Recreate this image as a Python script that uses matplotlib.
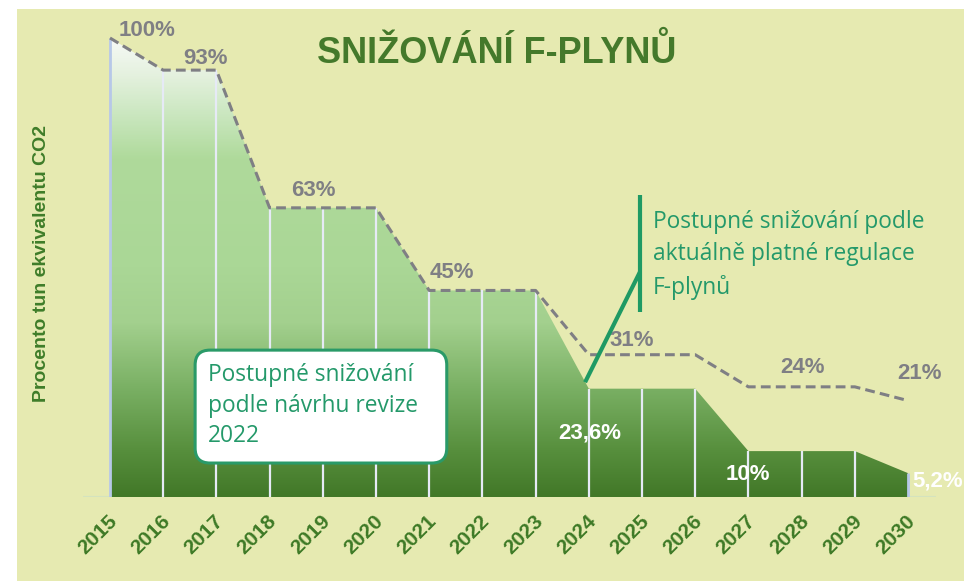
import numpy as np
import matplotlib
matplotlib.use("Agg")
import matplotlib.pyplot as plt
from matplotlib.colors import LinearSegmentedColormap
from matplotlib.patches import Rectangle, FancyBboxPatch
from matplotlib.transforms import ScaledTranslation

# --- data -------------------------------------------------------------
years = list(range(2015, 2031))
# phase-down according to the 2022 revision proposal (% of CO2-eq tonnes)
revize_2022 = [100, 93, 93, 63, 63, 63, 45, 45, 45, 23.6, 23.6, 23.6, 10, 10, 10, 5.2]
# phase-down according to the F-gas regulation currently in force
platna_regulace = [100, 93, 93, 63, 63, 63, 45, 45, 45, 31, 31, 31, 24, 24, 24, 21]
year_labels = [str(y) for y in years]

title = "SNIŽOVÁNÍ F-PLYNŮ"
ylabel = "Procento tun ekvivalentu CO2"
note_regulace = "Postupné snižování podle\naktuálně platné regulace\nF-plynů"
note_revize = "Postupné snižování\npodle návrhu revize\n2022"

# --- styling ----------------------------------------------------------
PANEL = "#E6EAB1"
DARK_GREEN = "#44792B"
TEAL = "#24996A"
GREY = "#7F7F84"
NARROW = ["Liberation Sans Narrow", "Liberation Sans", "DejaVu Sans"]
BOLD = ["Liberation Sans", "DejaVu Sans"]
LIGHT = ["Open Sans", "Lato", "DejaVu Sans"]


def pct(v):
    return f"{v:g}%".replace(".", ",")


W, H = 964, 581
fig = plt.figure(figsize=(W / 100, H / 100), dpi=100, facecolor="white")
fig.patches.append(Rectangle((17 / W, 0), (W - 17) / W, (H - 9) / H,
                             transform=fig.transFigure, facecolor=PANEL,
                             edgecolor="none", zorder=-10))

ax = fig.add_axes([17 / W, (H - 497) / H, (W - 17) / W, (497 - 9) / H])
ax.set_facecolor("none")
for s in ax.spines.values():
    s.set_visible(False)

# gradient-filled area for the revision proposal
cmap = LinearSegmentedColormap.from_list("fgas", [
    (0.00, "#427828"),
    (0.10, "#578F3D"),
    (0.24, "#7BB165"),
    (0.38, "#A3D08E"),
    (0.50, "#AAD796"),
    (0.74, "#AFDA9B"),
    (0.82, "#C6E5BA"),
    (0.92, "#E4F1DE"),
    (1.00, "#F6F9F6"),
])
area = ax.fill_between(years, revize_2022, color="none", lw=0, zorder=1)
grad = np.linspace(0, 100, 600).reshape(-1, 1)
im = ax.imshow(grad, extent=[years[0], years[-1], 0, 100], origin="lower",
               aspect="auto", cmap=cmap, vmin=0, vmax=100, zorder=1,
               interpolation="bilinear")
im.set_clip_path(area.get_paths()[0], transform=ax.transData)

# year separators inside the area
ax.vlines(years[1:-1], 0, revize_2022[1:-1], colors="#E6EAF6", lw=1.6, zorder=2)
ax.vlines([years[0], years[-1]], 0, [revize_2022[0], revize_2022[-1]],
          colors="#B7C8E8", lw=2.0, zorder=2)

# faint base line
ax.plot([2014.49, 2030.52], [0, 0], color="#D4E3BE", lw=1.6, zorder=0.5,
        solid_capstyle="butt")

# dashed line: current regulation
ax.plot(years, platna_regulace, color=GREY, lw=2.2, dashes=(3.2, 1.7), zorder=3)

# value labels of the current regulation
for i, dx, dy in [(0, 0.70, 1.7), (1, 0.80, 2.6), (3, 0.82, 3.7), (6, 0.43, 4.0),
                  (9, 0.81, 3.2), (12, 1.01, 4.3), (15, 0.21, 5.8)]:
    ax.text(years[i] + dx, platna_regulace[i] + dy, pct(platna_regulace[i]),
            ha="center", va="center", fontsize=16, fontweight="bold",
            family=NARROW, color=GREY, zorder=4)

# value labels of the revision proposal
for i, dx, dy in [(9, 0.02, -9.7), (12, -0.01, -5.2), (15, 0.55, -1.7)]:
    ax.text(years[i] + dx, revize_2022[i] + dy, pct(revize_2022[i]),
            ha="center", va="center", fontsize=16, fontweight="bold",
            family=NARROW, color="white", zorder=4, clip_on=False)

# callout for the current regulation
ax.plot([2023.93, 2024.96], [25.0, 49.0], color="#1F9A64", lw=3.0, zorder=4,
        solid_capstyle="butt")
ax.plot([2024.96, 2024.96], [40.3, 65.8], color="#1F9A64", lw=3.0, zorder=4,
        solid_capstyle="butt")
ax.text(2025.21, 52.7, note_regulace, ha="left", va="center", fontsize=16.4,
        family=LIGHT, color=TEAL, linespacing=1.46, zorder=4)

# callout box for the revision proposal
box = FancyBboxPatch((2016.60, 7.4), 2021.33 - 2016.60, 32.0 - 7.4,
                     boxstyle="round,pad=0,rounding_size=0.28",
                     mutation_aspect=53.2 / 4.59,
                     facecolor="white", edgecolor="#2A9A68", lw=2.2, zorder=5)
ax.add_patch(box)
ax.text(2016.84, 19.9, note_revize, ha="left", va="center", fontsize=16.4,
        family=LIGHT, color=TEAL, linespacing=1.37, zorder=6)

# title
ax.text((497 - 17) / 947, (497 - 53) / 488, title, transform=ax.transAxes,
        ha="center", va="center", fontsize=26, fontweight="bold",
        family=BOLD, color=DARK_GREEN)

# axes scales
ax.set_xlim(2015 - 93 / 53.2, 2015 + 854 / 53.2)
ax.set_ylim(0, 488 / 4.59)
ax.set_yticks([])
ax.set_xticks(years)
ax.set_xticklabels(year_labels, rotation=45, ha="right", va="center",
                   rotation_mode="anchor", fontsize=15, fontweight="bold",
                   family=BOLD, color="#3E7A26")
ax.tick_params(axis="x", length=0, pad=15)
shift = ScaledTranslation(3 / 72, 0, fig.dpi_scale_trans)
for lab in ax.get_xticklabels():
    lab.set_transform(lab.get_transform() + shift)

ax.set_ylabel(ylabel, fontsize=14, fontweight="bold", family=BOLD,
              color="#3F7D29", ha="center", va="center")
ax.yaxis.set_label_coords((42 - 17) / 947, (497 - 263) / 488)

fig.savefig("out.png", dpi=100, facecolor="white")
